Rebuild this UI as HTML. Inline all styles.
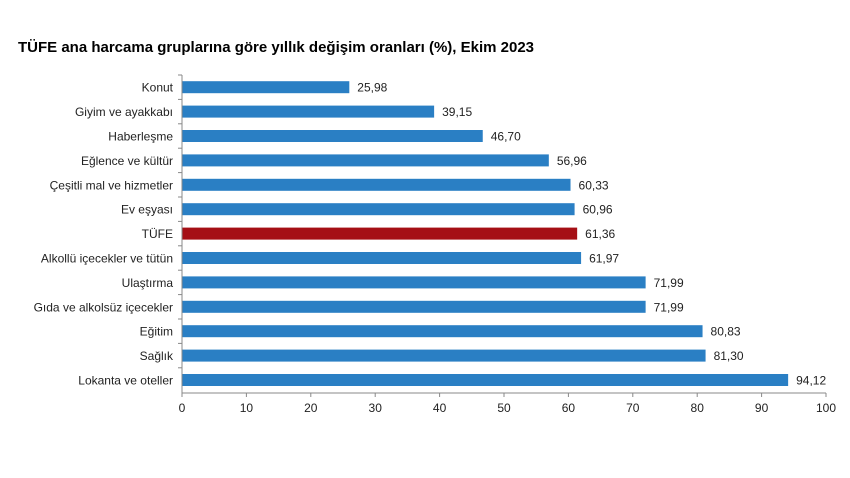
<!DOCTYPE html>
<html><head><meta charset="utf-8"><style>
body{margin:0;background:#fff;}
svg{display:block;font-family:"Liberation Sans",sans-serif;}
</style></head><body>
<svg width="850" height="478" xmlns="http://www.w3.org/2000/svg">
<rect width="850" height="478" fill="#fff"/>
<text x="18" y="52" font-size="15" font-weight="bold" fill="#000">TÜFE ana harcama gruplarına göre yıllık değişim oranları (%), Ekim 2023</text>
<g id="bars"></g>
<line x1="182" y1="75" x2="182" y2="393" stroke="#888" stroke-width="1"/>
<line x1="182" y1="393" x2="826" y2="393" stroke="#888" stroke-width="1"/>
<g id="ticks" font-size="12" fill="#222"></g>
</svg>
<script>
(function(){
var d=[["Konut",25.98],["Giyim ve ayakkabı",39.15],["Haberleşme",46.70],["Eğlence ve kültür",56.96],["Çeşitli mal ve hizmetler",60.33],["Ev eşyası",60.96],["TÜFE",61.36],["Alkollü içecekler ve tütün",61.97],["Ulaştırma",71.99],["Gıda ve alkolsüz içecekler",71.99],["Eğitim",80.83],["Sağlık",81.30],["Lokanta ve oteller",94.12]];
var ns="http://www.w3.org/2000/svg",g=document.getElementById("bars"),t=document.getElementById("ticks");
function el(p,n,a,txt){var e=document.createElementNS(ns,n);for(var k in a)e.setAttribute(k,a[k]);if(txt!=null)e.textContent=txt;p.appendChild(e);return e;}
var x0=182,sc=6.44,y0=75,step=24.4;
d.forEach(function(r,i){var cy=y0+step*(i+0.5);var w=r[1]*sc;
el(g,"rect",{x:x0,y:cy-6,width:w,height:12,fill:i==6?"#a50f15":"#2a7fc4"});
el(g,"text",{x:x0+w+8,y:cy+4.5,"font-size":12,fill:"#222"},r[1].toFixed(2).replace(".",","));
el(g,"text",{x:x0-9,y:cy+4.5,"font-size":12,fill:"#222","text-anchor":"end"},r[0]);
el(g,"line",{x1:x0-4,y1:y0+step*i,x2:x0,y2:y0+step*i,stroke:"#888"});});
for(var v=0;v<=100;v+=10){var x=x0+v*sc;el(t,"line",{x1:x,y1:393,x2:x,y2:397,stroke:"#888"});el(t,"text",{x:x,y:412,"text-anchor":"middle"},v);}
})();
</script>
</body></html>
